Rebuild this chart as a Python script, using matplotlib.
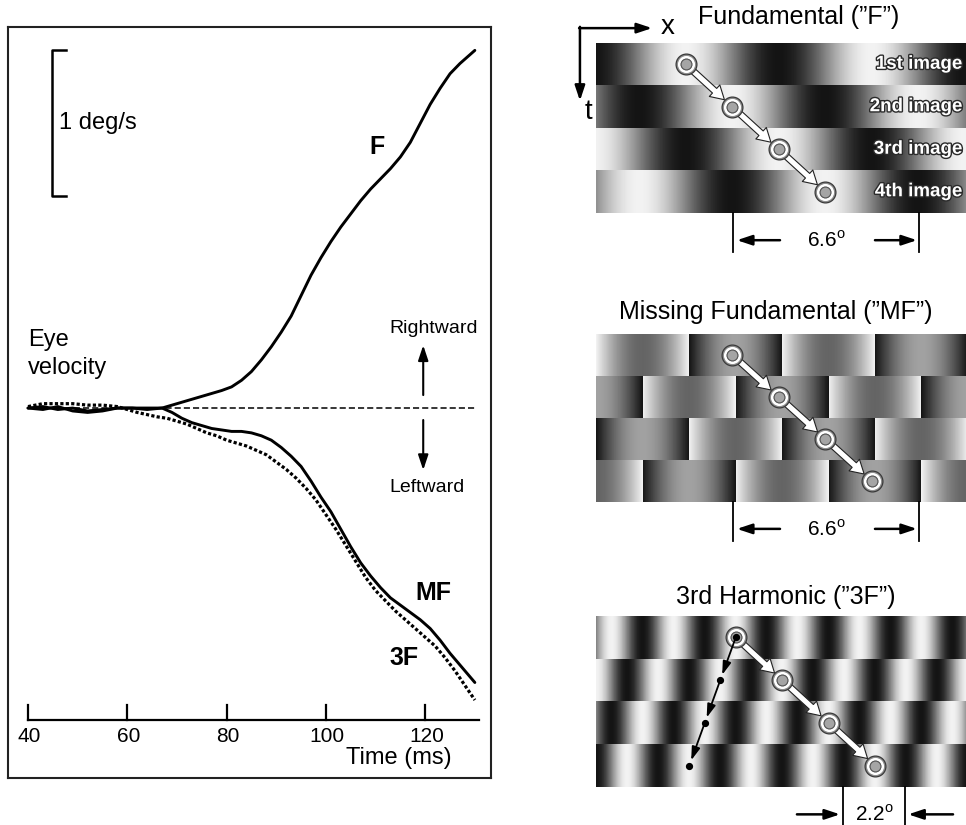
import numpy as np
import matplotlib
matplotlib.use('Agg')
import matplotlib.pyplot as plt
import matplotlib.patheffects as pe

plt.rcParams['font.family'] = ['Liberation Sans', 'DejaVu Sans']
plt.rcParams['mathtext.fontset'] = 'custom'
plt.rcParams['mathtext.rm'] = 'Liberation Sans'

# ---------------- data: eye velocity traces (deg/s) ----------------
time_F = [40, 43, 46, 49, 52, 55, 58, 61, 64, 67, 70, 72, 74.5, 77, 79, 81, 83, 85, 87, 89,
          91, 93, 95, 97, 99, 101, 103, 105, 107, 109, 111, 113, 115, 117, 119, 121,
          123, 125, 127, 129, 130]
vel_F = [0.00, 0.01, -0.01, 0.00, -0.02, -0.01, 0.00, 0.00, -0.01, 0.00, 0.03, 0.05, 0.075,
         0.10, 0.12, 0.145, 0.19, 0.25, 0.33, 0.42, 0.52, 0.63, 0.77, 0.91, 1.03, 1.14, 1.24,
         1.33, 1.42, 1.50, 1.57, 1.64, 1.72, 1.82, 1.95, 2.08, 2.19, 2.29, 2.36, 2.42, 2.45]

time_MF = [40, 43, 46, 49, 52, 55, 58, 61, 64, 67, 69, 71, 73, 75, 77, 79, 81, 83, 85, 87,
           89, 91, 93, 95, 97, 99, 101, 103, 105, 107, 109, 111, 113, 115, 117, 119, 121,
           123, 125, 127, 129, 130]
vel_MF = [0.00, -0.01, 0.01, -0.02, -0.03, -0.02, 0.00, 0.00, 0.00, 0.00, -0.03, -0.07,
          -0.10, -0.12, -0.14, -0.15, -0.16, -0.16, -0.17, -0.19, -0.22, -0.27, -0.33, -0.40,
          -0.50, -0.61, -0.71, -0.83, -0.95, -1.06, -1.15, -1.23, -1.30, -1.35, -1.40, -1.45,
          -1.51, -1.59, -1.68, -1.76, -1.84, -1.88]

time_3F = [40, 43, 46, 49, 52, 55, 58, 60, 62, 64, 66, 68, 70, 72, 74, 76, 78, 80, 82, 84,
           86, 88, 90, 92, 94, 96, 98, 100, 102, 104, 106, 108, 110, 112, 114, 116, 118,
           120, 122, 124, 126, 128, 130]
vel_3F = [0.01, 0.03, 0.03, 0.03, 0.02, 0.02, 0.01, -0.01, -0.03, -0.045, -0.06, -0.07,
          -0.09, -0.11, -0.14, -0.17, -0.19, -0.22, -0.24, -0.26, -0.29, -0.32, -0.37, -0.42,
          -0.48, -0.55, -0.63, -0.73, -0.83, -0.94, -1.05, -1.16, -1.25, -1.32, -1.39, -1.45,
          -1.51, -1.57, -1.63, -1.71, -1.80, -1.90, -2.00]

time_ticks = [40, 60, 80, 100, 120]
time_range = [40, 130]
scale_bar_deg_s = 1.0
curve_labels = ['F', 'MF', '3F']

# ---------------- data: stimuli ----------------
period_deg = 6.6                 # fundamental wavelength
harmonic_period_deg = 2.2        # 3rd harmonic wavelength
step_deg = period_deg / 4        # quarter-cycle shift per image
n_images = 4
view_deg = 13.13
image_labels = ['1st image', '2nd image', '3rd image', '4th image']
panel_titles = ['Fundamental (\u201dF\u201d)', 'Missing Fundamental (\u201dMF\u201d)',
                '3rd Harmonic (\u201d3F\u201d)']
track_start_deg = [3.18, 4.84, 4.96]     # position of tracked feature in 1st image
reverse_start_deg = 4.96                 # 3F: nearest-neighbour (backward) path
reverse_step_deg = -harmonic_period_deg / 4
dim_spans = [(4.86, 4.86 + period_deg), (4.86, 4.86 + period_deg),
             (8.77, 8.77 + harmonic_period_deg)]
dim_texts = ['6.6$^{\\rm o}$', '6.6$^{\\rm o}$', '2.2$^{\\rm o}$']

# ---------------- figure ----------------
W, H = 966, 825
fig = plt.figure(figsize=(W / 100, H / 100), dpi=100)


def px_box(x0, y0, x1, y1):
    return [x0 / W, 1 - y1 / H, (x1 - x0) / W, (y1 - y0) / H]


# ---- left panel ----
ax = fig.add_axes(px_box(8, 27, 491, 778))
ax.set_xlim(35.97, 133.25)
ax.set_ylim(-2.534, 2.61)
ax.set_xticks([])
ax.set_yticks([])
for s in ax.spines.values():
    s.set_linewidth(1.5)
    s.set_color('#222222')

ax.plot(time_range, [0, 0], color='black', lw=1.1, ls=(0, (4, 2)), zorder=1)
ax.plot(time_3F, vel_3F, color='black', lw=2.3, ls=(0, (1, 0.7)), zorder=3)
ax.plot(time_MF, vel_MF, color='black', lw=2.1, zorder=4, solid_capstyle='round')
ax.plot(time_F, vel_F, color='black', lw=2.1, zorder=4, solid_capstyle='round')

# time axis
y_axis = -2.137
ax.plot([time_range[0], time_range[1] + 0.8], [y_axis, y_axis], color='black', lw=1.6)
for t in time_ticks:
    ax.plot([t, t], [y_axis, y_axis + 0.103], color='black', lw=1.6)
    ax.text(t + 0.3, y_axis - 0.116, str(t), ha='center', va='center', fontsize=15)
ax.text(114.7, -2.40, 'Time (ms)', ha='center', va='center', fontsize=17)

# scale bar
sb_top = 2.452
sb_x = 44.8
ax.plot([sb_x + 2.9, sb_x, sb_x, sb_x + 2.9],
        [sb_top, sb_top, sb_top - scale_bar_deg_s, sb_top - scale_bar_deg_s],
        color='black', lw=1.8)
ax.text(sb_x + 1.4, sb_top - scale_bar_deg_s / 2, '1 deg/s', ha='left', va='center',
        fontsize=17)

ax.text(40.0, 0.466, 'Eye', ha='left', va='center', fontsize=17)
ax.text(40.0, 0.274, 'velocity', ha='left', va='center', fontsize=17)

ax.text(121.6, 0.548, 'Rightward', ha='center', va='center', fontsize=14)
ax.text(120.4, -0.541, 'Leftward', ha='center', va='center', fontsize=14)
arrow_kw = dict(arrowstyle='-|>,head_length=0.9,head_width=0.3', color='black', lw=1.5,
                mutation_scale=10, shrinkA=0, shrinkB=0)
ax.annotate('', xy=(119.6, 0.43), xytext=(119.6, 0.089), arrowprops=arrow_kw)
ax.annotate('', xy=(119.6, -0.425), xytext=(119.6, -0.082), arrowprops=arrow_kw)

ax.text(110.3, 1.788, curve_labels[0], ha='center', va='center', fontsize=18,
        fontweight='bold')
ax.text(121.6, -1.267, curve_labels[1], ha='center', va='center', fontsize=18,
        fontweight='bold')
ax.text(115.7, -1.712, curve_labels[2], ha='center', va='center', fontsize=18,
        fontweight='bold')

# ---- right panels ----
boxes = [(596, 43, 966, 213), (596, 334, 966, 502), (596, 616, 966, 787)]
x = np.linspace(0, view_deg, 1400)


def grating(kind, k):
    if kind == 0:
        # fundamental: bright bar follows the tracked feature
        return np.cos(2 * np.pi * (x - track_start_deg[0] - k * step_deg) / period_deg)
    theta = 2 * np.pi * (x - k * step_deg) / period_deg
    if kind == 1:
        return np.sign(np.sin(theta)) - 4 / np.pi * np.sin(theta)
    return np.sin(3 * theta)


def draw_circles(a, xs, ys):
    a.plot(xs, ys, ls='none', marker='o', ms=15, mfc='#8c8c8c', mec='#3a3a3a', mew=0.9,
           zorder=6)
    a.plot(xs, ys, ls='none', marker='o', ms=10.4, mfc='#a5a5a5', mec='white', mew=1.9,
           zorder=7)
    a.plot(xs, ys, ls='none', marker='o', ms=7.8, mfc='none', mec='#555555', mew=0.8,
           zorder=8)


white_arrow = dict(arrowstyle='simple,head_length=0.6,head_width=0.7,tail_width=0.28',
                   fc='white', ec='#222222', lw=0.8, mutation_scale=16, shrinkA=7,
                   shrinkB=7.5)
dim_arrow = dict(arrowstyle='-|>,head_length=0.9,head_width=0.3', color='black', lw=1.8,
                 mutation_scale=10, shrinkA=0, shrinkB=0)

for p, box in enumerate(boxes):
    a = fig.add_axes(px_box(*box))
    img = np.array([grating(p, k) for k in range(n_images)])
    a.imshow(img, cmap='gray', vmin=-1.18, vmax=1.12, aspect='auto',
             interpolation='nearest', extent=(0, view_deg, n_images, 0))
    a.set_xlim(0, view_deg)
    a.set_ylim(n_images, 0)
    a.axis('off')

    frames = np.arange(n_images)
    xs = track_start_deg[p] + step_deg * frames
    ys = frames + 0.5
    for k in range(n_images - 1):
        a.annotate('', xy=(xs[k + 1], ys[k + 1]), xytext=(xs[k], ys[k]),
                   arrowprops=white_arrow, zorder=5)
    draw_circles(a, xs, ys)

    if p == 2:
        rx = reverse_start_deg + reverse_step_deg * frames
        for k in range(n_images - 1):
            a.annotate('', xy=(rx[k + 1], ys[k + 1]), xytext=(rx[k], ys[k]),
                       arrowprops=dict(arrowstyle='-|>,head_length=0.8,head_width=0.25',
                                       color='black', lw=1.3, mutation_scale=10,
                                       shrinkA=0, shrinkB=4), zorder=9)
        a.plot(rx, ys, ls='none', marker='o', ms=4.2, color='black', zorder=10)

    if p == 0:
        for k, lab in enumerate(image_labels):
            a.text(12.99, k + 0.5, lab, ha='right', va='center', fontsize=13.5,
                   fontweight='bold', color='white',
                   path_effects=[pe.withStroke(linewidth=2, foreground='#2a2a2a')])
        # x / t axes
        a.annotate('', xy=(1.99, -0.35), xytext=(-0.60, -0.35), annotation_clip=False,
                   arrowprops=dim_arrow)
        a.annotate('', xy=(-0.57, 1.36), xytext=(-0.57, -0.38), annotation_clip=False,
                   arrowprops=dim_arrow)
        a.text(2.3, -0.38, 'x', ha='left', va='center', fontsize=20)
        a.text(-0.40, 1.62, 't', ha='left', va='center', fontsize=20)

    # dimension marks
    d0, d1 = dim_spans[p]
    for d in (d0, d1):
        a.plot([d, d], [n_images, n_images + 0.92], color='black', lw=1.3, clip_on=False)
    ya = n_images + 0.64
    if p < 2:
        a.annotate('', xy=(d0 + 0.14, ya), xytext=(d0 + 1.67, ya), annotation_clip=False,
                   arrowprops=dim_arrow)
        a.annotate('', xy=(d1 - 0.07, ya), xytext=(d1 - 1.56, ya), annotation_clip=False,
                   arrowprops=dim_arrow)
    else:
        a.annotate('', xy=(d0 - 0.11, ya), xytext=(d0 - 1.64, ya), annotation_clip=False,
                   arrowprops=dim_arrow)
        a.annotate('', xy=(d1 + 0.11, ya), xytext=(d1 + 1.70, ya), annotation_clip=False,
                   arrowprops=dim_arrow)
    a.text((d0 + d1) / 2, ya, dim_texts[p], ha='center', va='center', fontsize=15,
           clip_on=False)

# panel titles
title_pos = [(799, 17), (776, 312), (786, 597)]
for (tx, ty), tt in zip(title_pos, panel_titles):
    fig.text(tx / W, 1 - ty / H, tt, ha='center', va='center', fontsize=18)

fig.savefig('out.png', dpi=100)
